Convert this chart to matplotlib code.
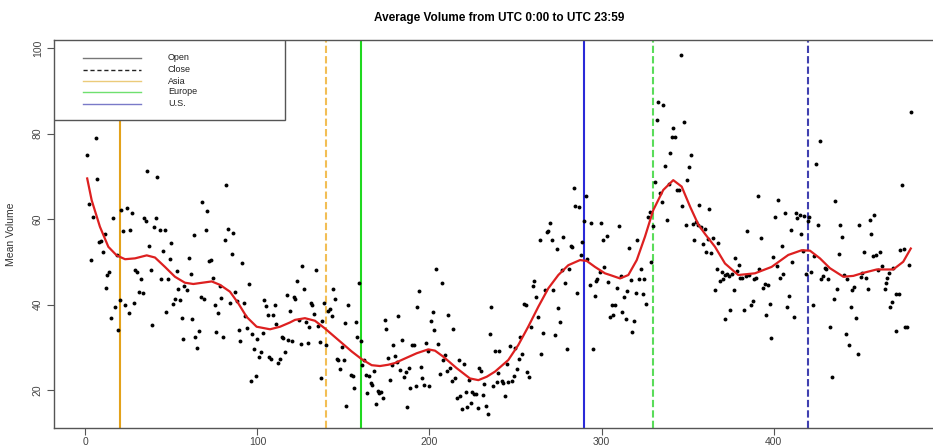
import matplotlib
matplotlib.use("Agg")
import matplotlib.pyplot as plt
from matplotlib.lines import Line2D
from matplotlib.patches import Rectangle

plt.rcParams['font.family'] = ['Liberation Sans', 'DejaVu Sans']

# ---- scatter data (interval index, mean volume) ----
pts_x = [5.9, 1.1, 6.9, 35.9, 41.8, 2.0, 4.2, 20.8, 23.9, 27.2, 16.0, 34.2, 35.0, 41.2, 22.0, 26.1, 40.0, 43.1,
         46.0, 11.1, 8.8, 7.8, 10.2, 49.9, 36.9, 44.9, 3.0, 18.1, 48.9, 28.8, 29.8, 38.1, 13.8, 12.7, 32.1, 43.9,
         48.2, 53.0, 12.1, 54.0, 57.4, 31.1, 33.2, 19.9, 17.2, 23.0, 28.0, 51.8, 55.1, 50.7, 47.0, 25.1, 15.0,
         56.1, 38.8, 18.9, 56.7,
         81.9, 67.9, 70.8, 63.1, 70.1, 83.0, 85.9, 80.9, 60.0, 71.8, 73.0, 85.0, 91.0, 61.2, 74.0, 59.0, 78.2,
         67.0, 69.1, 78.8, 86.9, 94.9, 75.1, 84.0, 88.1, 92.2, 77.2, 92.9, 62.1, 104.0, 105.1, 110.0, 117.0,
         106.1, 108.8, 118.9, 110.9, 66.0, 76.0, 89.1, 93.9, 63.8, 79.9, 97.0, 99.9, 103.0, 90.0, 114.1, 115.0,
         117.9, 64.8, 98.0, 101.9, 100.9, 106.9, 107.8, 116.0, 113.1, 112.1, 99.1, 96.0,
         126.0, 134.0, 122.8, 127.0, 121.0, 121.8, 130.9, 131.9, 133.0, 138.8, 141.2, 142.2, 143.1, 143.9, 144.9,
         152.8, 158.8, 124.1, 128.2, 129.8, 135.0, 137.7, 120.1, 125.1, 129.2, 136.2, 140.0, 150.7, 157.1, 158.0,
         160.0, 174.0, 174.9, 179.0, 146.2, 147.0, 150.1, 149.1, 148.0, 136.7, 154.2, 155.3, 161.9, 160.9, 176.0,
         178.0, 162.9, 165.0, 167.9, 165.8, 166.7, 163.8, 155.9, 177.0, 169.9, 170.8, 171.8, 172.8, 151.6, 168.9,
         204.0, 207.1, 194.1, 192.9, 201.9, 181.9, 201.0, 210.9, 202.8, 213.8, 184.0, 190.0, 191.0, 198.0, 204.9,
         180.1, 180.9, 198.9, 209.0, 183.0, 186.2, 187.9, 194.9, 185.0, 208.0, 211.9, 210.0, 205.9, 217.0, 219.9,
         195.8, 214.8, 212.9, 223.0, 229.0, 229.9, 188.8, 192.0, 197.0, 199.9, 221.0, 224.9, 225.9, 226.9, 217.9,
         216.0, 224.0, 231.9, 230.9, 235.9, 235.0, 238.1, 240.6, 240.0, 239.1, 236.9, 187.1, 218.9, 222.0, 228.0,
         232.8, 233.8,
         283.8, 290.8, 284.8, 286.9, 289.8, 294.1, 299.9, 269.9, 268.1, 268.9, 264.1, 271.0, 277.8, 300.9, 274.1,
         282.3, 283.0, 288.8, 287.9, 291.7, 301.6, 276.9, 280.9, 299.0, 297.4, 296.6, 260.8, 260.0, 279.0, 267.0,
         272.0, 293.1, 286.0, 296.0, 261.7, 254.8, 255.9, 274.7, 262.9, 275.7, 259.0, 266.2, 273.0, 252.6, 247.0,
         249.9, 265.0, 253.8, 279.9, 294.9, 252.0, 245.1, 251.0, 256.9, 258.0, 249.0, 245.8, 248.0, 242.0, 242.9,
         243.9,
         346.0, 333.0, 335.9, 332.1, 347.8, 341.7, 340.8, 342.9, 340.0, 336.9, 351.9, 350.9, 331.1, 349.9, 339.1,
         344.1, 344.9, 333.8, 335.0, 347.0, 362.5, 356.9, 338.1, 328.0, 326.8, 330.1, 348.9, 353.0, 354.8, 355.9,
         358.0, 360.0, 303.2, 310.2, 320.8, 354.0, 358.8, 362.1, 360.9, 316.0, 328.8, 322.8, 303.8, 311.2, 317.0,
         322.0, 324.9, 309.0, 315.0, 319.9, 323.9, 312.9, 325.7, 305.9, 308.0, 311.9, 304.8, 306.9, 314.1, 318.7,
         317.9,
         391.0, 402.8, 406.7, 400.9, 413.3, 413.8, 415.2, 417.9, 420.8, 420.1, 384.8, 410.0, 364.8, 367.9, 392.7,
         415.8, 404.9, 363.9, 417.0, 399.9, 377.8, 379.8, 401.9, 410.9, 367.0, 369.9, 378.8, 391.7, 373.0, 374.0,
         371.8, 376.1, 405.7, 403.9, 419.1, 421.8, 369.1, 370.8, 380.7, 381.9, 383.8, 385.6, 388.8, 389.8, 394.9,
         397.0, 393.9, 376.9, 366.0, 408.8, 388.1, 386.9, 398.0, 407.7, 422.8, 374.9, 383.0, 395.8, 412.1, 371.8,
         398.7,
         479.8, 427.0, 424.9, 474.9, 435.6, 458.6, 455.9, 425.9, 438.8, 449.7, 439.8, 456.7, 423.5, 437.9, 452.8,
         461.9, 459.8, 457.7, 473.7, 476.0, 478.8, 429.8, 430.7, 428.8, 427.8, 431.9, 441.2, 442.7, 451.6, 450.7,
         453.8, 460.9, 463.1, 467.0, 466.2, 465.4, 464.6, 469.6, 436.7, 446.8, 445.8, 454.9, 435.0, 444.9, 447.8,
         467.9, 468.9, 471.0, 472.8, 432.8, 442.0, 443.9, 449.1, 471.2, 476.7, 477.7, 433.8]

pts_y = [78.9, 75.1, 69.3, 71.2, 69.9, 63.5, 60.5, 62.2, 62.7, 61.5, 60.2, 60.3, 59.5, 60.3, 57.2, 57.5, 58.1, 57.5,
         57.5, 56.6, 54.9, 54.7, 52.3, 54.5, 53.8, 52.6, 50.4, 51.7, 50.6, 48.1, 47.5, 48.1, 47.5, 46.8, 46.0, 46.0,
         46.0, 47.9, 43.9, 43.7, 44.3, 42.9, 42.6, 41.0, 39.5, 40.0, 40.3, 41.2, 41.1, 40.1, 38.2, 37.9, 36.8,
         36.8, 35.3, 34.1, 31.9,
         68.0, 64.0, 61.9, 56.3, 57.4, 57.7, 56.8, 55.1, 50.9, 50.1, 50.5, 51.9, 49.6, 47.2, 46.3, 43.3, 44.3,
         41.8, 41.2, 41.6, 43.0, 44.7, 40.0, 40.4, 40.8, 40.4, 38.1, 37.4, 36.5, 41.1, 39.6, 40.0, 42.3,
         37.5, 37.5, 38.4, 35.4, 33.8, 33.6, 34.0, 34.4, 32.3, 32.3, 33.0, 31.9, 33.3, 31.5, 32.3, 32.1,
         31.6, 29.8, 29.7, 29.0, 27.6, 27.8, 27.2, 29.0, 27.2, 26.3, 23.2, 22.1,
         49.1, 48.1, 45.4, 43.7, 41.8, 41.4, 40.4, 40.0, 37.8, 40.3, 38.5, 38.9, 37.4, 43.6, 41.3,
         39.9, 45.0, 36.4, 35.8, 34.7, 35.0, 36.1, 31.5, 30.8, 30.9, 31.2, 30.5, 35.6, 36.0, 32.5,
         31.4, 36.3, 34.2, 30.5, 27.2, 27.0, 27.0, 30.0, 24.9, 22.8, 23.5, 23.3, 26.9, 25.9, 27.4,
         25.8, 23.4, 23.3, 24.4, 21.7, 21.2, 19.4, 20.4, 22.3, 19.8, 19.4, 19.5, 18.2, 16.2, 16.6,
         48.2, 45.0, 43.2, 39.3, 38.3, 37.3, 36.2, 37.5, 34.0, 34.3, 31.7, 30.5, 30.6, 31.1, 30.8,
         28.0, 26.6, 29.1, 28.2, 24.7, 24.1, 25.1, 25.4, 23.1, 27.0, 25.2, 24.4, 23.8, 27.0, 26.1,
         22.8, 22.8, 22.1, 22.3, 25.2, 24.4, 20.5, 21.0, 21.2, 20.9, 19.6, 19.5, 19.1, 19.0, 18.6,
         18.2, 17.0, 21.3, 18.8, 39.3, 33.2, 29.1, 29.1, 23.9, 21.9, 21.0, 16.0, 15.6, 16.0, 15.8,
         16.3, 14.4,
         67.3, 65.4, 63.1, 62.8, 59.6, 59.1, 59.0, 59.1, 56.9, 57.2, 55.0, 55.2, 55.8, 55.2, 52.9,
         53.7, 53.5, 54.6, 51.6, 50.6, 48.7, 48.1, 48.3, 47.5, 46.0, 45.6, 45.4, 44.3, 45.1, 43.5,
         43.5, 44.5, 42.7, 42.0, 41.7, 40.2, 39.9, 39.1, 37.0, 35.9, 34.7, 33.3, 32.9, 32.3, 30.2,
         29.9, 28.4, 28.4, 29.5, 29.6, 27.2, 26.1, 24.9, 24.2, 23.0, 23.2, 21.9, 22.2, 22.2, 21.6,
         18.6,
         98.4, 87.5, 86.7, 83.2, 82.7, 81.2, 79.1, 79.3, 75.4, 72.4, 74.9, 72.1, 68.6, 69.2, 68.3,
         66.7, 66.9, 66.2, 64.1, 63.0, 62.3, 63.4, 59.8, 61.6, 60.4, 58.4, 58.7, 58.9, 59.2, 58.5,
         58.2, 57.7, 56.0, 58.4, 55.1, 55.2, 54.2, 55.3, 52.4, 53.3, 49.9, 48.2, 45.3, 46.7, 45.7,
         46.0, 46.0, 43.8, 43.2, 42.6, 42.5, 41.7, 40.1, 39.8, 39.9, 38.2, 37.1, 37.5, 36.6, 36.2,
         33.6,
         65.4, 64.4, 61.3, 60.5, 61.5, 60.3, 60.9, 60.6, 60.5, 59.5, 57.3, 57.4, 55.5, 54.5, 55.6,
         56.4, 53.6, 52.1, 52.5, 51.2, 50.9, 49.2, 48.9, 50.0, 48.2, 47.7, 47.9, 48.4, 47.1, 46.7,
         46.8, 47.1, 47.1, 46.3, 47.1, 47.5, 45.5, 46.0, 46.1, 46.1, 46.7, 46.9, 45.9, 46.1, 44.9,
         44.6, 43.8, 43.4, 43.5, 41.9, 40.9, 40.0, 40.1, 39.5, 40.0, 38.7, 38.8, 37.6, 37.0, 36.7,
         32.2,
         85.0, 78.3, 72.8, 68.0, 64.2, 61.0, 59.7, 58.5, 58.5, 58.7, 55.8, 56.6, 51.4, 51.9, 52.4,
         52.4, 51.7, 51.4, 52.7, 53.1, 49.2, 48.6, 48.2, 46.7, 46.0, 46.0, 46.8, 45.9, 47.4, 46.4,
         46.2, 48.1, 48.9, 47.3, 46.1, 45.0, 43.6, 48.5, 43.6, 44.2, 43.5, 43.6, 41.2, 39.4, 36.8,
         39.4, 40.7, 42.5, 42.5, 34.7, 33.0, 30.5, 28.5, 33.9, 34.7, 34.7, 23.1]

# ---- smoothed trend ----
fit_x = [1, 3.6, 8.4, 13.3, 18.1, 23, 28.8, 35.6, 40.4, 46.2, 52, 57.8, 62.7, 68, 73.4, 78.2, 84, 88.8, 93.7,
         99.5, 107.3, 113.1, 118.9, 121.8, 127.6, 133.4, 139.2, 147, 154.8, 160.6, 166.4, 171.2, 176, 179.9,
         184.8, 192.6, 199.3, 203.2, 208, 215.8, 223.5, 228.4, 233.3, 238.1, 245.8, 251.6, 257.4, 263.3, 269.1,
         274.9, 280.7, 287.5, 291.4, 296.2, 302, 305, 310.8, 315.6, 320.5, 325.3, 330.1, 335.9, 341.7, 346.6,
         351.5, 356.3, 360.2, 366, 371.8, 379.5, 389.2, 398.9, 408.6, 416.4, 421.2, 427, 432.8, 440.6, 446.4,
         452.2, 460, 469.6, 475.4, 479.8]
fit_y = [69.5, 64.4, 58.2, 53.5, 51.5, 50.6, 50.8, 51.5, 51.0, 48.8, 46.5, 45.1, 44.8, 45.1, 45.4, 44.6, 43.0,
         40.3, 37.1, 34.8, 34.2, 34.8, 35.8, 36.4, 36.8, 36.2, 34.4, 31.7, 29.0, 27.2, 25.8, 25.6, 25.9, 26.3,
         27.2, 28.6, 29.5, 29.2, 27.8, 25.1, 22.7, 22.3, 23.1, 24.3, 27.0, 30.5, 34.8, 39.5, 43.8, 46.9, 49.2,
         50.4, 50.2, 48.8, 47.3, 46.9, 46.1, 46.9, 50.4, 55.9, 62.1, 66.8, 69.1, 67.6, 62.9, 58.7, 56.5, 53.5,
         49.6, 46.9, 47.3, 48.8, 51.6, 52.7, 52.6, 50.8, 48.5, 46.5, 46.7, 47.4, 48.2, 48.2, 50.0, 53.1]

# ---- session markers ----
session_names = ['Asia', 'Europe', 'U.S.']
session_open = [20, 160, 290]
session_close = [140, 330, 420]
open_colors = ['#E3A21A', '#1FD81F', '#2A2AD8']
close_colors = ['#F2BE55', '#5ADC5A', '#4040B0']
legend_colors = ['#EBCB7A', '#6FE06F', '#7A7AC8']

W, H = 933, 448
fig = plt.figure(figsize=(W / 100, H / 100), dpi=100)
L, R, B, T = 54, 945, 428, 40
ax = fig.add_axes([L / W, (H - B) / H, (R - L) / W, (B - T) / H])

for xo, c in zip(session_open, open_colors):
    ax.axvline(xo, color=c, lw=1.5, zorder=1)
for xc, c in zip(session_close, close_colors):
    ax.axvline(xc, color=c, lw=1.5, dashes=(3.5, 1.5), zorder=1)

ax.plot(pts_x, pts_y, 'o', color='black', ms=2.8, mew=0, zorder=3)
ax.plot(fit_x, fit_y, color='#DD2020', lw=1.6, zorder=4, solid_joinstyle='round')

ax.set_xlim(-18.3, 499.7)
ax.set_ylim(11.1, 101.9)
ax.set_xticks([0, 100, 200, 300, 400])
ax.set_yticks([20, 40, 60, 80, 100])
ax.tick_params(axis='both', direction='out', length=5, width=0.8, color='#555555',
               labelsize=7.5, labelcolor='#444444')
ax.tick_params(axis='x', pad=1.5)
ax.tick_params(axis='y', pad=3)
for lab in ax.get_yticklabels():
    lab.set_rotation(90)
    lab.set_va('center')
for sp in ax.spines.values():
    sp.set_color('#555555')
    sp.set_linewidth(1.0)

ax.set_ylabel('Mean Volume', fontsize=7.5, color='#333333', labelpad=12)
fig.text((L + R) / 2 / W, 1 - 18 / H, 'Average Volume from UTC 0:00 to UTC 23:59',
         ha='center', va='center', fontsize=8.5, fontweight='bold')

# legend box (manual, R style)
aw, ah = R - L, B - T
bx1 = (285 - L) / aw
by0 = 1 - (120 - T) / ah
ax.add_patch(Rectangle((0, by0), bx1, 1 - by0, transform=ax.transAxes, facecolor='white',
                       edgecolor='#555555', lw=1.0, zorder=5))
lx0, lx1, tx = (83 - L) / aw, (141 - L) / aw, (168 - L) / aw
rows = [58, 70, 81, 92, 104]
labels = ['Open', 'Close'] + session_names
styles = [('#777777', '-'), ('#222222', '--')] + [(c, '-') for c in legend_colors]
for yr, lab, (c, ls) in zip(rows, labels, styles):
    yy = 1 - (yr - T) / ah
    ln = Line2D([lx0, lx1], [yy, yy], transform=ax.transAxes, color=c, lw=1.0, zorder=6)
    if ls == '--':
        ln.set_dashes((3, 2))
    ax.add_line(ln)
    ax.text(tx, yy, lab, transform=ax.transAxes, fontsize=6.5, va='center', ha='left',
            color='#222222', zorder=6)

fig.savefig('out.png', dpi=100)
